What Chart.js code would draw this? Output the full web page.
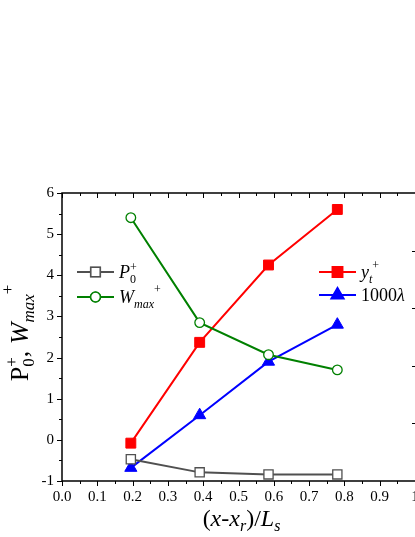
<!DOCTYPE html>
<html>
<head>
<meta charset="utf-8">
<script src="https://cdn.jsdelivr.net/npm/chart.js@4.4.0/dist/chart.umd.min.js"></script>
<style>
  html, body { margin: 0; padding: 0; background: #fff; overflow: hidden; }
  canvas { display: block; }
</style>
</head>
<body>
<canvas id="myChart" width="440" height="537"></canvas>
<script>
// data
const xVals = [0.195, 0.39, 0.585, 0.78];
const p0Vals = [-0.47, -0.79, -0.84, -0.84];
const wmaxVals = [5.4, 2.85, 2.07, 1.7];
const ytVals = [-0.08, 2.37, 4.25, 5.6];
const lambdaVals = [-0.68, 0.6, 1.9, 2.8];
const xTickLabels = ['0.0', '0.1', '0.2', '0.3', '0.4', '0.5', '0.6', '0.7', '0.8', '0.9', '1'];
const yTickLabels = ['-1', '0', '1', '2', '3', '4', '5', '6'];

const SERIF = '"Liberation Serif", "Times New Roman", serif';
const GRAY = 'rgb(80,80,80)';
const GREEN = 'rgb(0,128,0)';
const RED = 'rgb(255,0,0)';
const BLUE = 'rgb(0,0,255)';

const pts = vals => xVals.map((x, i) => ({x: x, y: vals[i]}));

function rich(ctx, segs, x, y, align) {
    const items = [];
    let cx = 0, pend = 0;
    segs.forEach(s => {
        ctx.font = (s.it ? 'italic ' : '') + s.size + 'px ' + SERIF;
        const w = ctx.measureText(s.t).width;
        items.push({s: s, x: cx});
        if (s.hold) { pend = Math.max(pend, w); }
        else { cx += Math.max(w, pend); pend = 0; }
    });
    const x0 = align === 'center' ? x - cx / 2 : x;
    ctx.textAlign = 'left';
    ctx.textBaseline = 'alphabetic';
    ctx.fillStyle = '#000';
    items.forEach(it => {
        ctx.font = (it.s.it ? 'italic ' : '') + it.s.size + 'px ' + SERIF;
        ctx.fillText(it.s.t, x0 + it.x, y + (it.s.dy || 0));
    });
}

const legendRows = [
    {ds: 0, x: 77, y: 272, text: [
        {t: 'P', it: true, size: 18}, {t: '+', size: 12, dy: -7, hold: true}, {t: '0', size: 12, dy: 5}]},
    {ds: 1, x: 77, y: 297, text: [
        {t: 'W', it: true, size: 18}, {t: 'max', it: true, size: 12, dy: 5}, {t: '+', size: 12, dy: -10}]},
    {ds: 2, x: 319, y: 272, text: [
        {t: 'y', it: true, size: 18}, {t: 't', it: true, size: 12, dy: 5}, {t: '+', size: 12, dy: -9}]},
    {ds: 3, x: 319, y: 295, text: [
        {t: '1000', size: 18}, {t: 'λ', it: true, size: 18}]}
];

const framePlugin = {
    id: 'frame',
    afterDraw(chart) {
        const ctx = chart.ctx;
        const a = chart.chartArea;
        const xs = chart.scales.x, ys = chart.scales.y;
        ctx.save();
        ctx.strokeStyle = '#000';
        ctx.lineWidth = 1.5;
        ctx.beginPath();
        ctx.moveTo(a.left, a.bottom); ctx.lineTo(a.left, a.top); ctx.lineTo(a.right, a.top);
        ctx.moveTo(a.left, a.bottom); ctx.lineTo(a.right, a.bottom);
        ctx.stroke();
        ctx.lineWidth = 1;
        ctx.beginPath();
        for (let i = -2; i <= 12; i++) {
            const py = Math.round(ys.getPixelForValue(i / 2)) + 0.5;
            const len = i % 2 === 0 ? 5 : 3;
            ctx.moveTo(a.left, py); ctx.lineTo(a.left - len, py);
        }
        for (let i = 0; i <= 20; i++) {
            const px = Math.round(xs.getPixelForValue(i / 20)) + 0.5;
            const len = i % 2 === 0 ? 5 : 3;
            ctx.moveTo(px, a.bottom); ctx.lineTo(px, a.bottom + len);
            ctx.moveTo(px, a.top); ctx.lineTo(px, a.top + len);
        }
        // right axis (cut off by the window) - only its inward ticks show
        for (let i = 1; i < 5; i++) {
            const py = Math.round(a.top + (a.bottom - a.top) * i / 5) + 0.5;
            ctx.moveTo(a.right, py); ctx.lineTo(a.right - 3, py);
        }
        ctx.stroke();

        // legends
        legendRows.forEach(r => {
            const ds = chart.data.datasets[r.ds];
            ctx.strokeStyle = ds.borderColor;
            ctx.lineWidth = 2;
            ctx.beginPath();
            ctx.moveTo(r.x, r.y); ctx.lineTo(r.x + 37, r.y);
            ctx.stroke();
            Chart.helpers.drawPoint(ctx, {
                pointStyle: ds.pointStyle, radius: ds.pointRadius, borderWidth: ds.pointBorderWidth,
                rotation: 0
            }, r.x + 18.5, r.y);
            ctx.fillStyle = ds.pointBackgroundColor;
            ctx.strokeStyle = ds.pointBorderColor;
            ctx.lineWidth = ds.pointBorderWidth;
            ctx.beginPath();
            Chart.helpers.drawPoint(ctx, {
                pointStyle: ds.pointStyle, radius: ds.pointRadius, borderWidth: ds.pointBorderWidth,
                rotation: 0
            }, r.x + 18.5, r.y);
            rich(ctx, r.text, r.x + 42, r.y + 6, 'left');
        });

        // axis titles
        rich(ctx, [
            {t: '(', size: 24}, {t: 'x', it: true, size: 24}, {t: '-', size: 24},
            {t: 'x', it: true, size: 24}, {t: 'r', it: true, size: 16, dy: 5},
            {t: ')/', size: 24}, {t: 'L', it: true, size: 24}, {t: 's', it: true, size: 16, dy: 5}
        ], (a.left + a.right) / 2 + 3, 526, 'center');

        ctx.translate(28, 333);
        ctx.rotate(-Math.PI / 2);
        rich(ctx, [
            {t: 'P', size: 26}, {t: '+', size: 17, dy: -11, hold: true}, {t: '0', size: 17, dy: 6},
            {t: ', ', size: 26}, {t: 'W', it: true, size: 26},
            {t: 'max', it: true, size: 17, dy: 6}, {t: '+', size: 17, dy: -15}
        ], 0, 0, 'center');
        ctx.restore();
    }
};

const ctx = document.getElementById('myChart').getContext('2d');
const myChart = new Chart(ctx, {
    type: 'line',
    data: {
        datasets: [{
            label: 'P0+',
            data: pts(p0Vals),
            borderColor: GRAY,
            borderWidth: 2,
            pointStyle: 'rect',
            pointRadius: 6.5,
            pointBackgroundColor: '#fff',
            pointBorderColor: GRAY,
            pointBorderWidth: 1.3
        }, {
            label: 'Wmax+',
            data: pts(wmaxVals),
            borderColor: GREEN,
            borderWidth: 2,
            pointStyle: 'circle',
            pointRadius: 4.8,
            pointBackgroundColor: '#fff',
            pointBorderColor: GREEN,
            pointBorderWidth: 1.3
        }, {
            label: 'yt+',
            data: pts(ytVals),
            borderColor: RED,
            borderWidth: 2,
            pointStyle: 'rect',
            pointRadius: 7,
            pointBackgroundColor: RED,
            pointBorderColor: RED,
            pointBorderWidth: 1
        }, {
            label: '1000λ',
            data: pts(lambdaVals),
            borderColor: BLUE,
            borderWidth: 2,
            pointStyle: 'triangle',
            pointRadius: 7,
            pointBackgroundColor: BLUE,
            pointBorderColor: BLUE,
            pointBorderWidth: 1
        }]
    },
    options: {
        responsive: false,
        animation: false,
        layout: { padding: { left: 0, top: 193, right: 25, bottom: 0 } },
        plugins: { legend: { display: false }, tooltip: { enabled: false } },
        elements: { line: { tension: 0, fill: false } },
        scales: {
            x: {
                type: 'linear',
                min: 0, max: 1,
                grid: { display: false, drawTicks: false },
                border: { display: false },
                ticks: {
                    stepSize: 0.1, autoSkip: false, maxRotation: 0, padding: 7,
                    color: '#000', font: { family: SERIF, size: 15 },
                    callback: (v) => xTickLabels[Math.round(v * 10)]
                },
                afterFit: (s) => { s.height = 56; s.paddingLeft = 0; s.paddingRight = 0; }
            },
            y: {
                min: -1, max: 6,
                grid: { display: false, drawTicks: false },
                border: { display: false },
                ticks: {
                    stepSize: 1, padding: 8,
                    color: '#000', font: { family: SERIF, size: 15 },
                    callback: (v) => yTickLabels[Math.round(v) + 1]
                },
                afterFit: (s) => { s.width = 62; s.paddingTop = 0; s.paddingBottom = 0; }
            }
        }
    },
    plugins: [framePlugin]
});
</script>
</body>
</html>
